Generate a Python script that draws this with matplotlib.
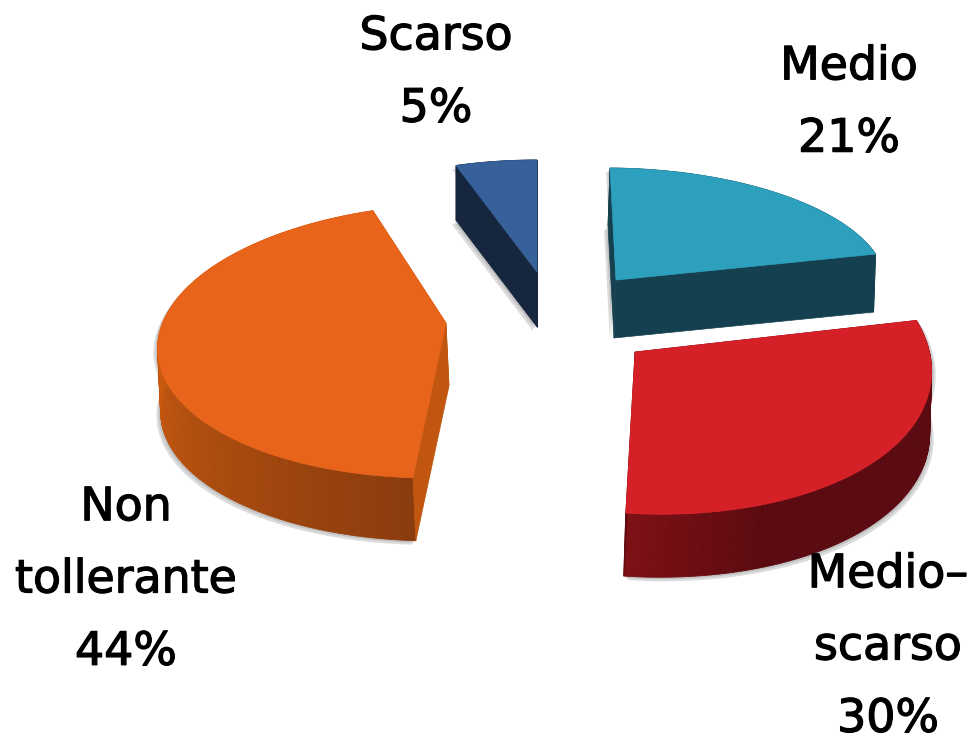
import numpy as np
import matplotlib
matplotlib.use('Agg')
import matplotlib.pyplot as plt
import matplotlib.colors as mcolors
import matplotlib.patheffects as path_effects

labels = ['Medio', 'Medio–\nscarso', 'Non\ntollerante', 'Scarso']
values = [21, 30, 44, 5]

topColors = ['#2ca0bd', '#d62027', '#e8641b', '#36619a']
sideStart = ['#15404f', '#5a0a10', '#8a3c0e', '#16263f']
sideEnd = ['#15404f', '#7d1015', '#c8590f', '#16263f']
cutColors = ['#15404f', '#5a0a10', '#c0560f', '#16263f']

# the picture is a fake 3d pie, so every slice has its own ellipse (pixels)
apex = [(616, 280), (635, 352), (446, 323), (537, 272)]
center = [(618, 280), (625, 352), (447, 341), (537, 272)]
radiusX = [268, 306, 289, 262]
radiusY = [112, 162, 137, 112]
skewX = [-8, -20, 16, 0]
skewY = [2, 9, 0, 0]
depth = [(-2, 58), (-2, 63), (3, 63), (0, 55)]
shadowShift = [(-2, 2), (2, 2), (-2, 2), (-2, 2)]
labelPos = [(849, 103), (888, 647), (126, 580), (436, 73)]


def mix(c1, c2, t):
    return tuple((1 - t) * np.array(mcolors.to_rgb(c1)) + t * np.array(mcolors.to_rgb(c2)))


def arc(i, angles):
    rad = np.radians(angles)
    x = center[i][0] + radiusX[i] * np.cos(rad) + skewX[i] * np.sin(rad)
    y = center[i][1] - radiusY[i] * np.sin(rad) + skewY[i] * np.cos(rad)
    return x, y


def drawSlice(ax, i, start, end, z):
    angles = np.linspace(start, end, 120)
    x, y = arc(i, angles)
    dx, dy = depth[i]

    # soft grey edge, the solid moved a little and drawn twice
    outX = np.concatenate([x, x[::-1] + dx, [apex[i][0] + dx, apex[i][0]]])
    outY = np.concatenate([y, y[::-1] + dy, [apex[i][1] + dy, apex[i][1]]])
    for n in [2, 1]:
        ax.fill(outX + n * shadowShift[i][0], outY + n * shadowShift[i][1],
                color='#999999', alpha=0.35, lw=0, zorder=z)

    # curved side, darker or lighter along the arc
    for k in range(len(x) - 1):
        t = k / (len(x) - 2)
        if i == 1:
            t = max(0.0, (t - 0.75) / 0.25)
        if i == 2:
            t = min(1.0, t / 0.55)
        col = mix(sideStart[i], sideEnd[i], t)
        ax.fill([x[k], x[k + 1], x[k + 1] + dx, x[k] + dx],
                [y[k], y[k + 1], y[k + 1] + dy, y[k] + dy],
                color=col, lw=0.6, zorder=z + 0.1)

    # flat cut faces
    for e in [0, -1]:
        ax.fill([apex[i][0], x[e], x[e] + dx, apex[i][0] + dx],
                [apex[i][1], y[e], y[e] + dy, apex[i][1] + dy],
                color=cutColors[i], lw=0.5, zorder=z + 0.2)

    ax.fill(np.append(x, apex[i][0]), np.append(y, apex[i][1]),
            color=topColors[i], lw=0.5, zorder=z + 0.3)


fig = plt.figure(figsize=(9.76, 7.4), dpi=100)
ax = fig.add_axes([0, 0, 1, 1])
ax.set_xlim(0, 976)
ax.set_ylim(740, 0)
ax.axis('off')

angle = 90.0
for i in range(len(values)):
    sweep = 360.0 * values[i] / sum(values)
    drawSlice(ax, i, angle, angle - sweep, 2 + i)
    angle -= sweep

for i in range(len(labels)):
    txt = ax.text(labelPos[i][0], labelPos[i][1], labels[i] + '\n' + str(values[i]) + '%',
                  ha='center', va='center', fontsize=33, color='black',
                  family='DejaVu Sans', linespacing=1.78, zorder=10)
    txt.set_path_effects([path_effects.withStroke(linewidth=0.9, foreground='black')])

fig.savefig('out.png', dpi=100)
